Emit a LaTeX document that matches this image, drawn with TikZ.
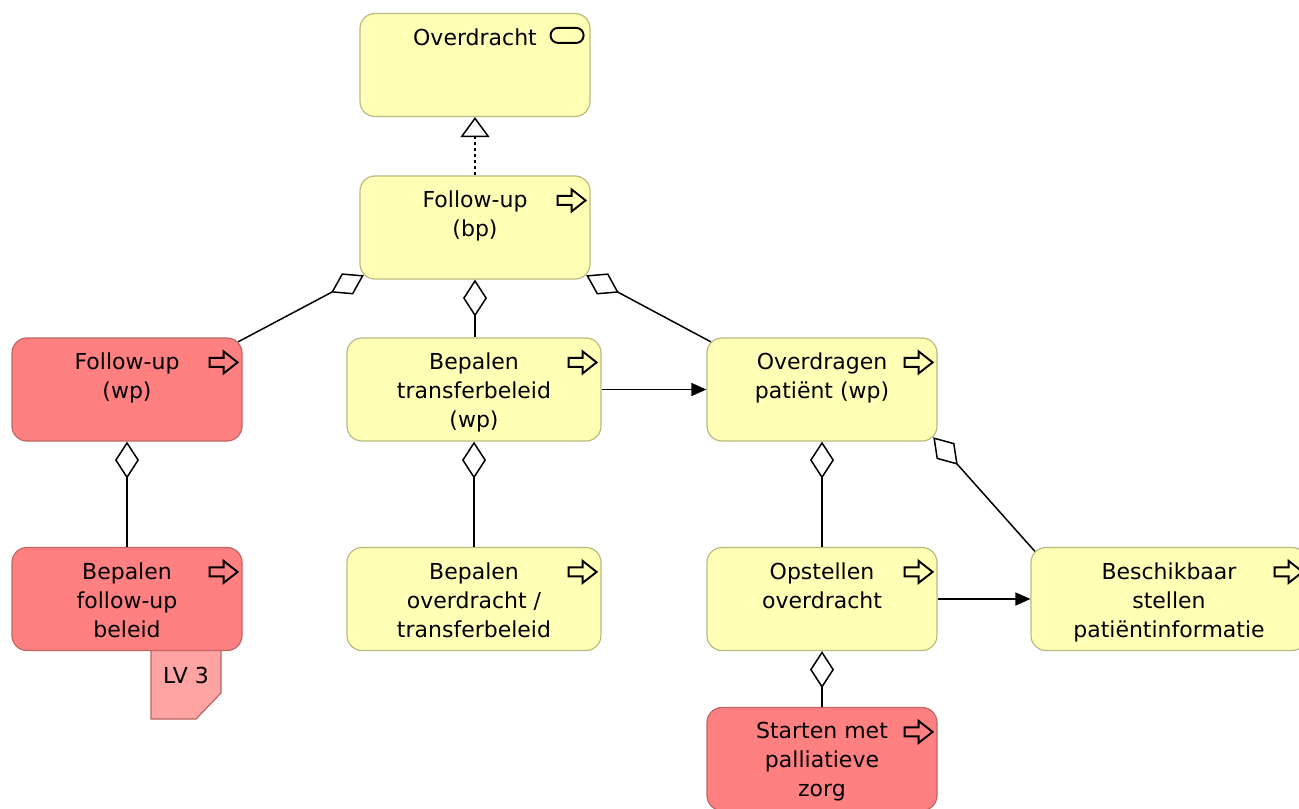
\documentclass[tikz,border=0pt]{standalone}
\usepackage{fontspec}
\setmainfont{DejaVu Sans}
\usetikzlibrary{arrows.meta}

\definecolor{bizfill}{HTML}{FFFFB5}
\definecolor{bizline}{HTML}{BABA80}
\definecolor{redfill}{HTML}{FF8080}
\definecolor{redline}{HTML}{C06464}
\definecolor{notefill}{HTML}{FFA3A3}
\definecolor{noteline}{HTML}{BA6262}

\tikzset{
  elem/.style={draw, line width=0.6pt, rounded corners=7.5pt, inner sep=0pt},
  bizbox/.style={elem, fill=bizfill, draw=bizline},
  redbox/.style={elem, fill=redfill, draw=redline},
  lbl/.style={anchor=north, inner sep=0pt, align=center, font=\fontsize{11}{14.5}\selectfont},
  iconline/.style={draw=black, line width=0.95pt, fill=none, line join=miter},
  conn/.style={line width=0.75pt, draw=black},
  agg/.style={conn, {Diamond[open, fill=white, length=18.5pt, width=12pt]}-},
  trig/.style={conn, -{Triangle[length=7.5pt, width=6.5pt]}},
  real/.style={conn, dash pattern=on 1.5pt off 1.5pt, -{Triangle[open, fill=white, length=10pt, width=14.5pt]}}
}

% element box with its label set near the top
\newcommand\elem[5]{%
  \node[#2, minimum width=#4, minimum height=51.5pt] (#1) at #3 {};
  \node[lbl] (#1-txt) at ([yshift=-7.5pt]#1.north) {#5};
}
% process arrow in the top right corner of an element
\newcommand\procicon[1]{%
  \draw[iconline] ([shift={(-5,25)}]#1.north east) -- ++(-14,-11) -- ++(0,6.5)
    -- ++(-14,0) -- ++(0,9) -- ++(14,0) -- ++(0,6.5) -- cycle;
}
% service symbol in the top right corner of an element
\newcommand\servicon[1]{%
  \draw[iconline, rounded corners=3.7pt] ([shift={(-40,15)}]#1.north east) rectangle ++(33,15);
}

\begin{document}
\begin{tikzpicture}[x=0.5pt, y=-0.5pt]
  \clip (0,0) rectangle (1299,808);

  % note attached below "Bepalen follow-up beleid"
  \draw[fill=notefill, draw=noteline, line width=0.6pt]
    (151,645) -- (221,645) -- (221,693) -- (196,719) -- (151,719) -- cycle;
  \node[font=\fontsize{11}{14.5}\selectfont] (lv) at (186,675) {LV 3};

  \elem{ovd}{bizbox}{(475,65)}{115pt}{Overdracht}
  \elem{bp}{bizbox}{(475,227.5)}{115pt}{Follow-up\\(bp)}
  \elem{fwp}{redbox}{(127,389.5)}{115pt}{Follow-up\\(wp)}
  \elem{bt}{bizbox}{(474,389.5)}{127pt}{Bepalen\\transferbeleid\\(wp)}
  \elem{ov}{bizbox}{(822,389.5)}{115pt}{Overdragen\\patiënt (wp)}
  \elem{bfb}{redbox}{(127,599)}{115pt}{Bepalen\\follow-up\\beleid}
  \elem{bo}{bizbox}{(474,599)}{127pt}{Bepalen\\overdracht /\\transferbeleid}
  \elem{op}{bizbox}{(822,599)}{115pt}{Opstellen\\overdracht}
  \elem{bs}{bizbox}{(1169,599)}{138pt}{Beschikbaar\\stellen\\patiëntinformatie}
  \elem{st}{redbox}{(822,759)}{115pt}{Starten met\\palliatieve\\zorg}

  \servicon{ovd}
  \foreach \n in {bp,fwp,bt,ov,bfb,bo,op,bs,st} {\procicon{\n}}

  % realization
  \draw[real] (bp.north) -- (ovd.south);

  % aggregations
  \draw[agg] ([shift={(4.4,-4.4)}]bp.south west) -- ([shift={(-4.4,4.4)}]fwp.north east);
  \draw[agg] (bp.south) -- (bp.south |- bt.north);
  \draw[agg] ([shift={(-4.4,-4.4)}]bp.south east) -- ([shift={(4.4,4.4)}]ov.north west);
  \draw[agg] (fwp.south) -- (bfb.north);
  \draw[agg] (bt.south) -- (bo.north);
  \draw[agg] (ov.south) -- (op.north);
  \draw[agg] ([shift={(-4.4,-4.4)}]ov.south east) -- ([shift={(4.4,4.4)}]bs.north west);
  \draw[agg] (op.south) -- (st.north);

  % triggering
  \draw[trig] (bt.east) -- (ov.west);
  \draw[trig] (op.east) -- (bs.west);
\end{tikzpicture}
\end{document}
